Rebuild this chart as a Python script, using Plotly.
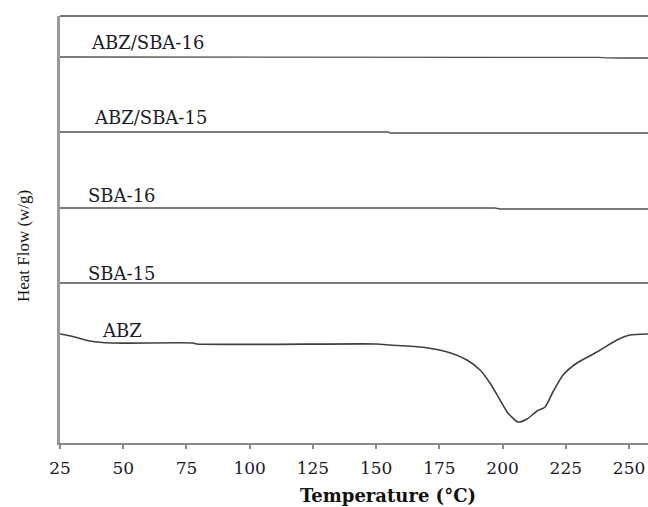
import plotly.graph_objects as go

# ---- data (Temperature in °C, heat flow in arbitrary offset units) ----
abz_t = [25, 30, 36.9, 45.6, 77.6, 79, 150, 155.5, 168.5, 179.2, 185.9, 191.1, 195.0,
         199.0, 202.1, 206.1, 209.7, 213.6, 216.8, 219.9, 223.9, 229.4, 237.3, 245.2,
         250.3, 257.5]
abz_v = [109, 106.5, 102, 100, 100, 99, 99, 98, 95.7, 90.3, 83, 73, 60,
         43, 30, 21, 24, 32, 36, 51, 68, 80, 91, 103,
         108, 109]

sba15_t = [25, 257.5]
sba15_v = [160, 160]

sba16_t = [25, 175, 178, 181, 185, 189, 193, 197, 199, 257.5]
sba16_v = [235, 235, 234.6, 235, 234.6, 235, 234.6, 235, 234, 234]

abz_sba15_t = [25, 154.7, 155.5, 257.5]
abz_sba15_v = [311, 311, 310, 310]

abz_sba16_t = [25, 37, 42, 48, 56, 140, 142, 238, 241, 244, 247, 257.5]
abz_sba16_v = [386, 386, 385.4, 385.6, 386, 386, 385.6, 385.6, 385.2, 385.4, 385, 385]

series_names = ["ABZ/SBA-16", "ABZ/SBA-15", "SBA-16", "SBA-15", "ABZ"]
label_x = [59.6, 60.6, 49.5, 49.5, 49.7]
label_y = [401, 326, 248, 170, 113]

x_ticks = [25, 50, 75, 100, 125, 150, 175, 200, 225, 250]

fig = go.Figure()
for t, v, name in [(abz_sba16_t, abz_sba16_v, "ABZ/SBA-16"),
                   (abz_sba15_t, abz_sba15_v, "ABZ/SBA-15"),
                   (sba16_t, sba16_v, "SBA-16"),
                   (sba15_t, sba15_v, "SBA-15")]:
    fig.add_trace(go.Scatter(x=t, y=v, mode="lines", name=name,
                             line=dict(color="#505050", width=1.3)))
fig.add_trace(go.Scatter(x=abz_t, y=abz_v, mode="lines", name="ABZ",
                         line=dict(color="#404040", width=1.6, shape="spline", smoothing=0.6)))

for name, lx, ly in zip(series_names, label_x, label_y):
    fig.add_annotation(x=lx, y=ly, text=name, showarrow=False, xanchor="center", yanchor="middle",
                       font=dict(family="DejaVu Serif", size=18, color="#1a1a2a"))

fig.add_annotation(xref="paper", yref="paper", x=0.558, y=-0.122, text="<b>Temperature (°C)</b>",
                   showarrow=False, xanchor="center", yanchor="middle",
                   font=dict(family="DejaVu Serif", size=18, color="#111"))
fig.add_annotation(xref="paper", yref="paper", x=-0.063, y=0.461, text="Heat Flow (w/g)",
                   textangle=-90, showarrow=False, xanchor="center", yanchor="middle",
                   font=dict(family="Liberation Serif", size=17, color="#111"))

fig.add_shape(type="line", xref="paper", yref="paper", x0=0, x1=1, y0=1, y1=1,
              line=dict(color="#444", width=1.6))

fig.update_layout(
    width=648, height=507,
    margin=dict(l=60, r=0, t=16, b=64),
    plot_bgcolor="white", paper_bgcolor="white",
    showlegend=False,
    xaxis=dict(range=[25, 257.5], tickvals=x_ticks, ticks="outside", ticklen=4, tickwidth=2,
               tickcolor="#888", showline=True, linecolor="#888", linewidth=2,
               showgrid=False, zeroline=False, ticklabelstandoff=5,
               tickfont=dict(family="DejaVu Serif", size=17, color="#1a1a2a")),
    yaxis=dict(range=[0, 427], showticklabels=False, ticks="", showline=True,
               linecolor="#999", linewidth=3, showgrid=False, zeroline=False),
)

fig.write_html("out.html", config={"displayModeBar": False},
               post_script="document.body.style.margin='0';document.body.style.overflow='hidden';")
